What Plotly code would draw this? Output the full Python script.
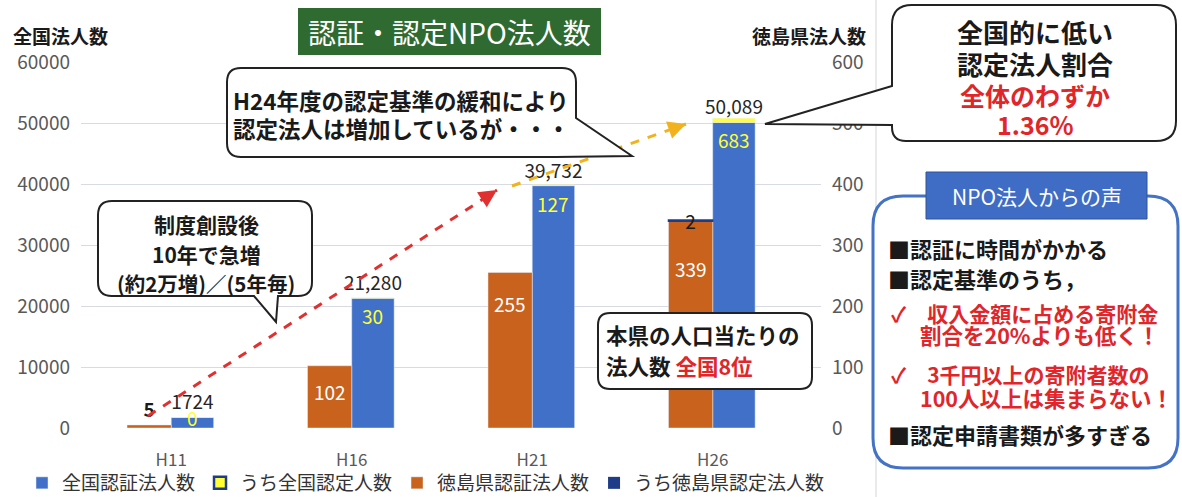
import math
import plotly.graph_objects as go

# ---------------- data ----------------
categories = ["H11", "H16", "H21", "H26"]
national_certified = [1724, 21280, 39732, 50089]        # 全国認証法人数
national_recognized = [0, 30, 127, 683]                  # うち全国認定人数
tokushima_certified = [5, 102, 255, 339]                 # 徳島県認証法人数
tokushima_recognized = [0, 0, 0, 2]                      # うち徳島県認定法人数
national_certified_text = ["1724", "21,280", "39,732", "50,089"]
tokushima_recognized_text = ["", "", "", "2"]
left_ticks = [0, 10000, 20000, 30000, 40000, 50000, 60000]
right_ticks = [0, 100, 200, 300, 400, 500, 600]

# ---------------- styling ----------------
FONT = "Noto Sans CJK JP"
BLUE = "#4070C8"
YELLOW = "#FFFF33"
ORANGE = "#C8621C"
NAVY = "#1F3C88"
RED = "#E0262B"
GRAY = "#595959"

# relative height (within the bar) of the white labels on the orange bars
orange_label_frac = [None, 0.58, 0.80, 0.77]

W_FIG, H_FIG = 1182, 497
L, T, PW, PH = 81, 62, 740, 366
R = W_FIG - L - PW
B = H_FIG - T - PH
X_RANGE = [-0.5, 3.6]
Y_RANGE = [0, 60000]
Y2_RANGE = [0, 600]
ORANGE_OFFSET, ORANGE_W = -0.245, 0.245
BLUE_OFFSET, BLUE_W = 0.0, 0.235
CAT_PX = PW / (X_RANGE[1] - X_RANGE[0])


def px(x):
    return (x - L) / PW


def py(y):
    return 1 - (y - T) / PH


def rounded_path(pts):
    n = len(pts)
    cmds = []
    for i in range(n):
        x, y, r = pts[i]
        if r == 0:
            cmds.append(("L", (x, y)))
        else:
            x0, y0, _ = pts[i - 1]
            x1, y1, _ = pts[(i + 1) % n]
            d0 = math.hypot(x0 - x, y0 - y)
            d1 = math.hypot(x1 - x, y1 - y)
            a = (x + (x0 - x) / d0 * r, y + (y0 - y) / d0 * r)
            b = (x + (x1 - x) / d1 * r, y + (y1 - y) / d1 * r)
            cmds.append(("L", a))
            cmds.append(("Q", (x, y), b))
    s = ""
    for k, c in enumerate(cmds):
        if c[0] == "L":
            s += ("M" if k == 0 else "L") + f"{px(c[1][0]):.5f},{py(c[1][1]):.5f} "
        else:
            s += f"Q{px(c[1][0]):.5f},{py(c[1][1]):.5f} {px(c[2][0]):.5f},{py(c[2][1]):.5f} "
    return s + "Z"


shapes = []
annotations = []


def add_path(pts, line_color="#222222", width=2, fill="white"):
    shapes.append(dict(type="path", xref="paper", yref="paper", path=rounded_path(pts),
                       line=dict(color=line_color, width=width), fillcolor=fill, layer="above"))


def add_text(x, y, s, size, color="#1a1a1a", bold=True, anchor="center"):
    annotations.append(dict(x=px(x), y=py(y), xref="paper", yref="paper",
                            text=f"<b>{s}</b>" if bold else s, showarrow=False,
                            xanchor=anchor, yanchor="middle",
                            font=dict(size=size, color=color, family=FONT)))


def add_arrow(x0, y0, x1, y1, color, width=3):
    shapes.append(dict(type="line", xref="paper", yref="paper",
                       x0=px(x0), y0=py(y0), x1=px(x1), y1=py(y1),
                       line=dict(color=color, width=width, dash="dash"), layer="above"))
    d = math.hypot(x1 - x0, y1 - y0)
    ux, uy = (x1 - x0) / d, (y1 - y0) / d
    annotations.append(dict(x=px(x1), y=py(y1), xref="paper", yref="paper",
                            ax=-ux * 12, ay=-uy * 12, text="", showarrow=True,
                            arrowhead=2, arrowsize=1.2, arrowwidth=width, arrowcolor=color))


# ---------------- traces ----------------
fig = go.Figure()

fig.add_trace(go.Bar(
    x=categories, y=national_certified, name="全国認証法人数",
    offset=BLUE_OFFSET, width=BLUE_W, marker=dict(color=BLUE),
    text=national_certified_text, textposition="outside", constraintext="none", textangle=0,
    outsidetextfont=dict(size=19, color="#262626", family=FONT),
    cliponaxis=False, legendrank=1))

fig.add_trace(go.Bar(
    x=categories, y=national_recognized, base=national_certified, name="うち全国認定人数",
    offset=BLUE_OFFSET, width=BLUE_W, marker=dict(color=YELLOW), showlegend=False))

fig.add_trace(go.Bar(
    x=[None], y=[None], name="うち全国認定人数",
    marker=dict(color=YELLOW, line=dict(color=NAVY, width=2.5)), legendrank=2))

fig.add_trace(go.Bar(
    x=categories, y=tokushima_certified, name="徳島県認証法人数", yaxis="y2",
    offset=ORANGE_OFFSET, width=ORANGE_W, marker=dict(color=ORANGE),
    text=[str(v) if f is None else "" for v, f in zip(tokushima_certified, orange_label_frac)],
    textposition="outside", constraintext="none", textangle=0,
    outsidetextfont=dict(size=19, color="#1a1a1a", family=FONT, weight="bold"),
    cliponaxis=False, legendrank=3))

fig.add_trace(go.Bar(
    x=categories, y=tokushima_recognized, base=tokushima_certified,
    name="うち徳島県認定法人数", yaxis="y2",
    offset=ORANGE_OFFSET, width=ORANGE_W,
    marker=dict(color=NAVY, line=dict(color=NAVY,
                                      width=[1.5 if v > 0 else 0 for v in tokushima_recognized])),
    text=tokushima_recognized_text, textposition="inside", constraintext="none", textangle=0,
    insidetextanchor="middle",
    insidetextfont=dict(size=19, color="#1a1a1a", family=FONT),
    cliponaxis=False, legendrank=4))

# white value labels on the orange bars
for cat, v, f in zip(categories, tokushima_certified, orange_label_frac):
    if f is None:
        continue
    annotations.append(dict(x=cat, y=v * f, xref="x", yref="y2", text=str(v), showarrow=False,
                            xshift=(ORANGE_OFFSET + ORANGE_W / 2) * CAT_PX,
                            font=dict(size=19, color="white", family=FONT)))

# yellow labels (うち全国認定人数) just inside the top of the blue bars
for cat, top, v in zip(categories, national_certified, national_recognized):
    bar_px = top / (Y_RANGE[1] - Y_RANGE[0]) * PH
    short = bar_px < 22
    annotations.append(dict(x=cat, y=top, xref="x", yref="y", text=str(v), showarrow=False,
                            xshift=(BLUE_OFFSET + BLUE_W / 2) * CAT_PX,
                            yanchor="middle" if short else "top", yshift=0 if short else -2,
                            font=dict(size=19, color=YELLOW, family=FONT)))

# ---------------- decorations ----------------
shapes.append(dict(type="line", xref="paper", yref="paper", x0=px(876), x1=px(876),
                   y0=py(0), y1=py(497), line=dict(color="#D5D5D5", width=1), layer="below"))

# title box
shapes.append(dict(type="rect", xref="paper", yref="paper", x0=px(298), x1=px(601),
                   y0=py(55), y1=py(8), fillcolor="#2F6A31", line=dict(width=0), layer="above"))
add_text(449, 32, "認証・認定NPO法人数", 28, color="white", bold=False)

# axis titles
add_text(11, 36, "全国法人数", 19, anchor="left")
add_text(868, 36, "徳島県法人数", 19, anchor="right")

# arrows
add_arrow(148, 416, 497, 190, "#E0302F")
add_arrow(512, 186, 686, 124, "#F2B21E")

# callout 1
add_path([(227, 68, 14), (576, 68, 14), (576, 118, 0), (632, 156, 0), (556, 157, 0), (227, 157, 14)])
add_text(231, 100, "H24年度の認定基準の緩和により", 22.5, anchor="left")
add_text(231, 128, "認定法人は増加しているが・・・", 22.5, anchor="left")

# callout 2
add_path([(98, 201, 14), (312, 201, 14), (312, 296, 14), (278, 296, 0), (276, 322, 0),
          (254, 296, 0), (98, 296, 14)])
add_text(206, 224, "制度創設後", 21)
add_text(206, 254, "10年で急増", 21)
add_text(206, 283, "(約2万増)／(5年毎)", 20.5)

# callout 3
add_path([(892, 5, 20), (1176, 5, 20), (1176, 141, 20), (892, 141, 14), (892, 125, 0),
          (765, 124, 0), (892, 86, 0)])
add_text(1035, 31, "全国的に低い", 26)
add_text(1035, 63, "認定法人割合", 26)
add_text(1035, 95, "全体のわずか", 25, color=RED)
add_text(1035, 124, "1.36%", 25, color=RED)

# callout 4
add_path([(598, 313, 12), (812, 313, 12), (812, 389, 12), (598, 389, 12)])
add_text(604, 334, "本県の人口当たりの", 21.5, anchor="left")
add_text(604, 365, f"法人数 <span style='color:{RED}'>全国8位</span>", 21.5, anchor="left")

# NPO voices panel
add_path([(873, 196, 30), (1178, 196, 30), (1178, 468, 30), (873, 468, 30)],
         line_color="#4472C4", width=3)
shapes.append(dict(type="rect", xref="paper", yref="paper", x0=px(926), x1=px(1147),
                   y0=py(219), y1=py(172), fillcolor="#3F6CC4",
                   line=dict(color="#2F5597", width=1), layer="above"))
add_text(1037, 196, "NPO法人からの声", 21, color="white", bold=False)
add_text(886, 248, "■認証に時間がかかる", 22, anchor="left")
add_text(886, 278, "■認定基準のうち，", 22, anchor="left")
add_text(889, 313, "✓　収入金額に占める寄附金", 21, color=RED, anchor="left")
add_text(918, 334, "割合を20%よりも低く！", 21.5, color=RED, anchor="left")
add_text(889, 374, "✓　3千円以上の寄附者数の", 21, color=RED, anchor="left")
add_text(918, 397, "100人以上は集まらない！", 21.5, color=RED, anchor="left")
add_text(886, 434, "■認定申請書類が多すぎる", 22, anchor="left")

# ---------------- layout ----------------
fig.update_layout(
    width=W_FIG, height=H_FIG,
    margin=dict(l=L, r=R, t=T, b=B, autoexpand=False),
    paper_bgcolor="white", plot_bgcolor="white",
    barmode="overlay",
    font=dict(family=FONT, color=GRAY),
    showlegend=True,
    legend=dict(orientation="h", x=px(22), y=py(483), xanchor="left", yanchor="middle",
                font=dict(size=19, color="#333333", family=FONT),
                itemwidth=30, traceorder="normal", bgcolor="rgba(0,0,0,0)"),
    xaxis=dict(range=X_RANGE, showgrid=False, zeroline=False, showline=False,
               tickfont=dict(size=17, color=GRAY, family=FONT), ticks="",
               ticklabelstandoff=20),
    yaxis=dict(range=Y_RANGE, tickvals=left_ticks, ticktext=[str(v) for v in left_ticks],
               showgrid=True, gridcolor="#D8DAE4", gridwidth=1, zeroline=False,
               tickfont=dict(size=19, color=GRAY, family=FONT), ticks="",
               ticklabelstandoff=10),
    yaxis2=dict(range=Y2_RANGE, overlaying="y", side="right", tickvals=right_ticks,
                showgrid=False, zeroline=False,
                tickfont=dict(size=19, color=GRAY, family=FONT), ticks="",
                ticklabelstandoff=10),
    shapes=shapes,
    annotations=annotations,
)

fig.write_html("out.html", config={"displayModeBar": False})

# remove the browser's default page margin so the figure sits at the window's corner
with open("out.html", encoding="utf-8") as fh:
    html = fh.read()
html = html.replace("<head>", "<head><style>html,body{margin:0;padding:0;}</style>", 1)
with open("out.html", "w", encoding="utf-8") as fh:
    fh.write(html)
